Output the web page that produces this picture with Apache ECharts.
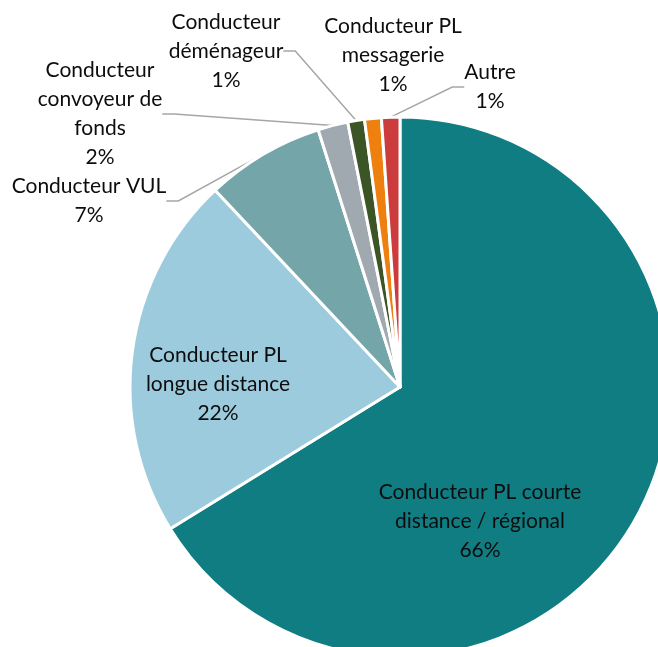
<!DOCTYPE html>
<html>
<head>
<meta charset="utf-8">
<script src="https://cdn.jsdelivr.net/npm/echarts@6/dist/echarts.min.js"></script>
<style>
  html, body { margin: 0; padding: 0; background: #fff; }
  #main { width: 658px; height: 647px; }
</style>
</head>
<body>
<div id="main"></div>
<script>
// catégories et parts
const categories = [
  'Conducteur PL courte\ndistance / régional',
  'Conducteur PL\nlongue distance',
  'Conducteur VUL',
  'Conducteur\nconvoyeur de\nfonds',
  'Conducteur\ndéménageur',
  'Conducteur PL\nmessagerie',
  'Autre'
]
const values = [66.2, 21.8, 7.1, 1.8, 1.0, 1.0, 1.1]
const colors = ['#0f7d82', '#9dcbde', '#74a6a9', '#a0a8b0', '#3b5527', '#ee800f', '#cc3c3c']

// position des étiquettes (centre du bloc de texte)
const labelPos = [
  [480, 521],
  [218, 384],
  [89, 201],
  [100, 114],
  [226, 51],
  [393, 55],
  [490, 87]
]
const showLine = [false, false, true, true, true, false, true]

const myChart = echarts.init(document.getElementById('main'))

const data = values.map((v, i) => ({
  name: categories[i],
  value: v,
  itemStyle: { color: colors[i] },
  label: { position: i < 2 ? 'inside' : 'outside' },
  labelLine: { show: showLine[i] }
}))

const option = {
  animation: false,
  series: [
    {
      type: 'pie',
      center: [400, 387],
      radius: [0, 270],
      startAngle: 90,
      clockwise: true,
      avoidLabelOverlap: false,
      itemStyle: { borderColor: '#fff', borderWidth: 3 },
      label: {
        color: '#0d0d0d',
        fontFamily: 'Lato',
        fontSize: 21,
        lineHeight: 29,
        align: 'center',
        formatter: (p) => p.name + '\n' + Math.round(p.percent) + '%'
      },
      labelLine: {
        length: 10,
        length2: 12,
        lineStyle: { color: '#a6a6a6', width: 1.5 }
      },
      labelLayout: (params) => {
        const pos = labelPos[params.dataIndex]
        return {
          x: pos[0],
          y: pos[1],
          align: 'center',
          verticalAlign: 'middle'
        }
      },
      data: data
    }
  ]
}

myChart.setOption(option)
</script>
</body>
</html>
